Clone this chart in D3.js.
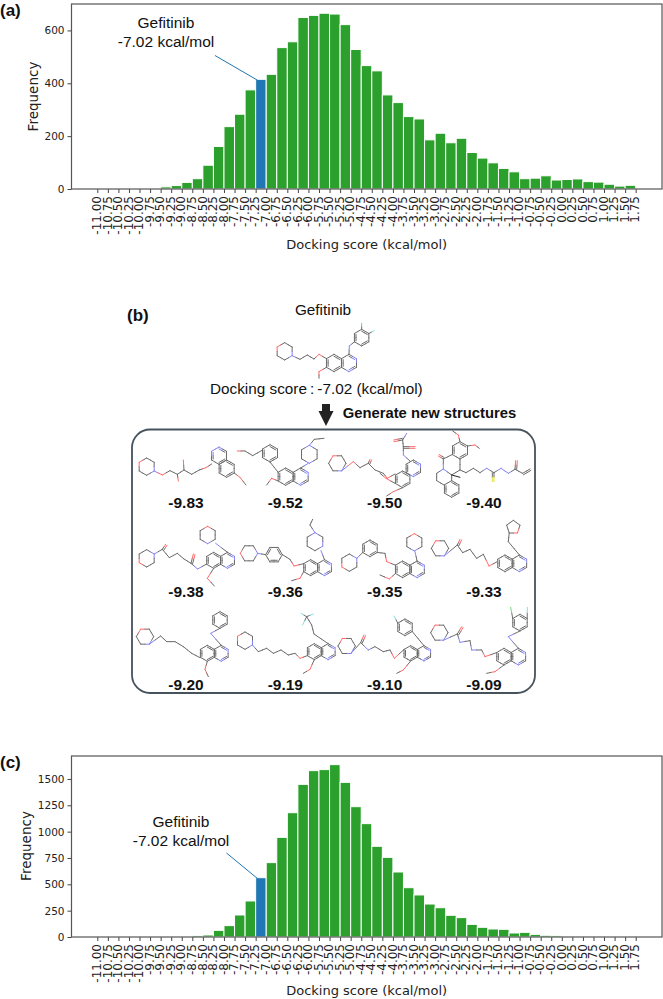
<!DOCTYPE html>
<html>
<head>
<meta charset="utf-8">
<title>Docking score histograms</title>
<script src="https://cdn.jsdelivr.net/npm/d3@7"></script>
<style>
  html, body { margin: 0; padding: 0; background: #fff; }
  svg { display: block; }
  .axis path, .axis line { stroke: #444; }
  .axis text { font-family: "DejaVu Sans", sans-serif; fill: #222; }
  .label { font-family: "DejaVu Sans", sans-serif; font-size: 13px; fill: #222; }
  .arial { font-family: "Liberation Sans", Arial, sans-serif; fill: #111; }
</style>
</head>
<body>
<div id="chart"></div>
<script>
/* Bin left edges, shared by both histograms */
var binEdges = [-11, -10.75, -10.5, -10.25, -10, -9.75, -9.5, -9.25, -9, -8.75, -8.5, -8.25, -8, -7.75, -7.5, -7.25,
  -7, -6.75, -6.5, -6.25, -6, -5.75, -5.5, -5.25, -5, -4.75, -4.5, -4.25, -4, -3.75, -3.5, -3.25, -3, -2.75, -2.5,
  -2.25, -2, -1.75, -1.5, -1.25, -1, -0.75, -0.5, -0.25, 0, 0.25, 0.5, 0.75, 1, 1.25, 1.5, 1.75];

var freqA = [0, 0, 0, 0, 0, 0, 8, 13, 25, 39, 90, 161, 236, 283, 375, 415, 434, 535, 557, 649, 657, 665, 662, 622];
var freqB = [528, 467, 447, 356, 327, 274, 265, 186, 211, 175, 192, 138, 117, 99, 78, 65, 39, 41, 50, 34, 36, 38, 28, 26, 18, 11, 14];

var freqC1 = [0, 0, 0, 0, 0, 0, 0, 0, 9, 13, 19, 63, 108, 209, 342, 563, 706, 946, 1180, 1449, 1579, 1589, 1636, 1468];
var freqC2 = [1237, 1076, 861, 756, 617, 468, 399, 313, 278, 206, 184, 120, 92, 76, 73, 38, 44, 25, 16, 13, 3, 2, 3, 1, 0, 0, 0];

var topScores = ["-9.83", "-9.52", "-9.50", "-9.40"];
var midScores = ["-9.38", "-9.36", "-9.35", "-9.33"];
var lowScores = ["-9.20", "-9.19", "-9.10", "-9.09"];

var yTicksA = [0, 200, 400, 600];
var yTicksC = [0, 250, 500, 750, 1000, 1250, 1500];
var highlightEdge = -7.25;

var svg = d3.select("#chart").append("svg").attr("width", 663).attr("height", 999);

/* Histogram panel */
function histogram(opts) {
  var g = svg.append("g");
  var x = d3.scaleLinear().domain([-11, 1.75]).range([97.3, 635.7]);
  var y = d3.scaleLinear().domain([0, opts.ymax]).range([opts.bottom, opts.top]);

  g.selectAll("rect.bar").data(opts.values).enter().append("rect")
    .attr("class", "bar")
    .attr("x", function (d, i) { return x(binEdges[i]); })
    .attr("width", function (d, i) { return x(binEdges[i + 1]) - x(binEdges[i]); })
    .attr("y", function (d) { return y(d); })
    .attr("height", function (d) { return opts.bottom - y(d); })
    .attr("fill", function (d, i) { return binEdges[i] === highlightEdge ? "#1f77b4" : "#2ca02c"; })
    .attr("stroke", "#fff").attr("stroke-width", 1);

  var xAxis = g.append("g").attr("class", "axis").attr("transform", "translate(0," + opts.bottom + ")")
    .call(d3.axisBottom(x).tickValues(binEdges).tickSize(4).tickFormat(function (d) { return d.toFixed(2); }));
  xAxis.select(".domain").remove();
  xAxis.selectAll("text")
    .attr("transform", "rotate(-90)")
    .attr("text-anchor", "end")
    .attr("x", -7).attr("y", -1).attr("dy", "0.35em")
    .style("font-size", "12px");

  var yAxis = g.append("g").attr("class", "axis").attr("transform", "translate(71.5,0)")
    .call(d3.axisLeft(y).tickValues(opts.yTicks).tickSize(4).tickPadding(3).tickFormat(d3.format("d")));
  yAxis.select(".domain").remove();
  yAxis.selectAll("text").style("font-size", "10.5px");

  g.append("rect").attr("x", 71.5).attr("y", opts.top).attr("width", 590.5).attr("height", opts.bottom - opts.top)
    .attr("fill", "none").attr("stroke", "#555").attr("stroke-width", 1.2);

  g.append("text").attr("class", "label").attr("x", 366.7).attr("y", opts.xlabelY).attr("text-anchor", "middle")
    .text("Docking score (kcal/mol)");
  g.append("text").attr("class", "label").attr("text-anchor", "middle").style("font-size", "13.5px")
    .attr("transform", "translate(" + opts.ylabelX + "," + opts.ylabelY + ") rotate(-90)")
    .text("Frequency");

  // Gefitinib callout
  g.append("line").attr("x1", opts.call[0]).attr("y1", opts.call[1])
    .attr("x2", x(highlightEdge) + 2).attr("y2", y(opts.values[binEdges.indexOf(highlightEdge)]) + 1)
    .attr("stroke", "#1f77b4").attr("stroke-width", 1);
  g.append("text").attr("class", "arial").attr("x", opts.noteX).attr("y", opts.noteY)
    .attr("text-anchor", "middle").style("font-size", "15.5px").text("Gefitinib");
  g.append("text").attr("class", "arial").attr("x", opts.noteX).attr("y", opts.noteY + 19)
    .attr("text-anchor", "middle").style("font-size", "15.5px").text("-7.02 kcal/mol");
}

histogram({ values: freqA.concat(freqB), ymax: 700, top: 4, bottom: 189, yTicks: yTicksA,
  xlabelY: 249, ylabelX: 38, ylabelY: 96.5, call: [215, 55.5], noteX: 166, noteY: 28 });
histogram({ values: freqC1.concat(freqC2), ymax: 1718, top: 756, bottom: 937, yTicks: yTicksC,
  xlabelY: 995, ylabelX: 31, ylabelY: 846, call: [226.5, 853], noteX: 181, noteY: 827 });

/* Panel letters and text */
function label(x, y, size, weight, str, anchor) {
  svg.append("text").attr("class", "arial").attr("x", x).attr("y", y)
    .attr("text-anchor", anchor || "start")
    .style("font-size", size + "px").style("font-weight", weight).text(str);
}
label(0, 16, 17, "bold", "(a)");
label(127, 321, 17, "bold", "(b)");
label(0, 768, 17, "bold", "(c)");
label(323, 315, 15.3, "normal", "Gefitinib", "middle");
label(210, 394, 15.3, "normal", "Docking score\u2009:\u2009-7.02 (kcal/mol)");
label(342.7, 418, 14.8, "bold", "Generate new structures");

svg.append("rect").attr("x", 132).attr("y", 429.5).attr("width", 403).attr("height", 263.5)
  .attr("rx", 18).attr("fill", "none").attr("stroke", "#46525c").attr("stroke-width", 1.8);

// Down arrow
svg.append("path").attr("fill", "#222")
  .attr("d", d3.line()([[322, 404], [330, 404], [330, 411], [333.5, 411], [326, 426], [318.5, 411], [322, 411]]) + "Z");

var col = d3.scalePoint().domain(d3.range(4)).range([186, 484]);
[[topScores, 508], [midScores, 597], [lowScores, 690]].forEach(function (row) {
  row[0].forEach(function (s, i) { label(col(i), row[1], 15.5, "bold", s, "middle"); });
});

/* Molecule sketches, in 3x crop units */
var atomColor = { O: "#ff6a6a", N: "#8484ee", Cl: "#6fdc6f", F: "#7fe0e0", S: "#e0e040" };
var bondColor = "#6a6a6a";

function sheet(ox, oy) {
  return svg.append("g").attr("transform", "translate(" + ox + "," + oy + ") scale(0.3333)")
    .attr("fill", "none").attr("stroke-width", 3).attr("stroke-linecap", "round");
}
function seg(g, a, b, c) {
  g.append("line").attr("x1", a[0]).attr("y1", a[1]).attr("x2", b[0]).attr("y2", b[1]).attr("stroke", c || bondColor);
}
function bond(g, a, b) {
  var m = [(a[0] + b[0]) / 2, (a[1] + b[1]) / 2];
  seg(g, a, m, atomColor[a[2]]);
  seg(g, m, b, atomColor[b[2]]);
}
function chain(g, pts) {
  for (var i = 1; i < pts.length; i++) bond(g, pts[i - 1], pts[i]);
}
function dbl(g, a, b) {
  var dx = b[0] - a[0], dy = b[1] - a[1], l = Math.sqrt(dx * dx + dy * dy) || 1;
  var ox = -dy / l * 5, oy = dx / l * 5;
  bond(g, [a[0] + ox, a[1] + oy, a[2]], [b[0] + ox, b[1] + oy, b[2]]);
  bond(g, a, b);
}
function ring(g, cx, cy, r, rot, atoms, arom, n) {
  n = n || 6;
  var pts = [];
  for (var i = 0; i < n; i++) {
    var t = (rot - 90 + i * 360 / n) * Math.PI / 180;
    var p = [cx + r * Math.cos(t), cy + r * Math.sin(t)];
    if (atoms && atoms[i]) p.push(atoms[i]);
    pts.push(p);
  }
  for (i = 0; i < n; i++) {
    bond(g, pts[i], pts[(i + 1) % n]);
    if (arom && i % 2 === 0) {
      var a = pts[i], b = pts[(i + 1) % n];
      var k = 0.78;
      bond(g, [cx + (a[0] - cx) * k, cy + (a[1] - cy) * k, a[2]], [cx + (b[0] - cx) * k, cy + (b[1] - cy) * k, b[2]]);
    }
  }
  return pts;
}
function morph(g, cx, cy, r, rot, o) {
  var atoms = {};
  atoms[o] = "O";
  atoms[(o + 3) % 6] = "N";
  return ring(g, cx, cy, r, rot, atoms)[(o + 3) % 6];
}
function quin(g, cx, cy, r) {
  var d = 2 * r * Math.cos(Math.PI / 6);
  var L = ring(g, cx, cy, r, 0, null, true);
  var R = ring(g, cx + d, cy, r, 0, { 1: "N", 3: "N" }, true);
  return { top: R[0], ul: L[5], ll: L[4], bot: L[3], ltop: L[0] };
}
function at(x, y, a) { return a ? [x, y, a] : [x, y]; }

var A = sheet(120, 290), B = sheet(380, 290), C = sheet(120, 510), D = sheet(380, 510);
var q, n, p;

// Gefitinib
n = morph(A, 494, 184, 26, 0, 5);
q = quin(A, 642, 219, 26);
chain(A, [n, at(540, 208), at(562, 195), at(582, 207), at(597, 193, "O"), q.ul]);
chain(A, [q.ll, at(597, 245, "O"), at(597, 265)]);
p = ring(A, 725, 143, 25, 0, null, true);
chain(A, [q.top, at(688, 168, "N"), p[4]]);
chain(A, [p[0], at(725, 100, "Cl")]);
chain(A, [p[1], at(763, 122, "F")]);

// -9.83
n = morph(A, 80, 530, 26, 0, 5);
chain(A, [n, at(127, 555, "O"), at(150, 542), at(172, 553), at(192, 540), at(215, 553), at(238, 540), at(258, 533, "O"), at(275, 522)]);
chain(A, [at(192, 540), at(190, 510, "O")]);
chain(A, [at(172, 553), at(175, 573, "O")]);
ring(A, 297, 497, 26, 0, { 0: "N", 5: "N" }, true);
p = ring(A, 320, 536, 26, 0, null, true);
chain(A, [p[2], at(360, 562, "O"), at(378, 585)]);

// -9.52
chain(A, [at(352, 483, "O"), at(375, 483), at(398, 497), at(428, 480)]);
p = ring(A, 450, 490, 26, 0, null, true);
q = quin(A, 497, 560, 26);
chain(A, [p[3], q.ul]);
chain(A, [q.ll, at(455, 565, "O"), at(440, 585)]);
chain(A, [q.top, at(565, 520, "N")]);
ring(A, 568, 493, 27, 0, { 3: "N", 0: "N" });
chain(A, [at(568, 466, "N"), at(583, 448), at(612, 445)]);

// -9.50
n = morph(A, 652, 520, 26, 30, 5);
chain(A, [n, at(700, 515, "O"), at(720, 533), at(745, 520), at(765, 540), at(790, 550), at(802, 565, "O"), at(825, 552)]);
dbl(A, at(745, 520), at(750, 508, "O"));
ring(B, 68, 568, 25, 0, null, true);
ring(B, 100, 535, 25, 0, { 1: "N", 3: "N" }, true);
chain(B, [at(90, 513), at(70, 495, "N"), at(70, 470)]);
dbl(B, at(70, 470), at(105, 470, "O"));
chain(B, [at(70, 470), at(68, 450)]);
dbl(B, at(68, 450), at(42, 455, "O"));
chain(B, [at(68, 450), at(80, 430, "N")]);
chain(B, [at(45, 580), at(18, 565, "O"), at(0, 550)]);
chain(B, [at(68, 593), at(40, 605, "O"), at(20, 618)]);

// -9.40
p = ring(B, 240, 481, 26, 0, null, true);
chain(B, [p[0], at(235, 435, "O"), at(218, 423)]);
chain(B, [p[1], at(285, 465, "O"), at(298, 475)]);
chain(B, [at(218, 493), at(190, 507), at(190, 537, "N"), at(215, 555), at(240, 540), at(240, 507)]);
dbl(B, at(190, 507), at(175, 498, "O"));
chain(B, [at(240, 540), at(258, 548), at(280, 535), at(300, 548), at(320, 535, "N"), at(342, 548), at(363, 535, "N"), at(385, 550, "N"), at(405, 538), at(428, 550)]);
dbl(B, at(428, 550), at(450, 537));
dbl(B, at(342, 548), at(342, 575, "S"));
dbl(B, at(405, 538), at(407, 512, "O"));
chain(B, [at(190, 537, "N"), at(170, 550), at(170, 572), at(192, 585)]);
chain(B, [at(215, 555), at(215, 572)]);
ring(B, 215, 597, 25, 0, null, true);
seg(B, at(215, 555), at(240, 562), "#222");

// -9.38
n = morph(C, 80, 145, 26, 0, 4);
chain(C, [at(103, 132, "N"), at(127, 118), at(148, 143), at(172, 130), at(192, 147), at(213, 160), at(233, 177, "N"), at(260, 162)]);
dbl(C, at(127, 118), at(137, 103, "O"));
dbl(C, at(213, 160), at(220, 132, "O"));
q = quin(C, 281, 151, 24);
chain(C, [q.top, at(287, 100, "N")]);
morph(C, 263, 75, 26, 0, 0);
chain(C, [q.bot, at(262, 205, "O"), at(283, 228)]);

// -9.36
n = morph(C, 387, 130, 26, 30, 4);
p = ring(C, 462, 134, 25, 30, null, true);
chain(C, [n, p[4]]);
q = quin(C, 572, 173, 24);
chain(C, [p[1], at(510, 148), at(522, 168, "O"), q.ul]);
chain(C, [q.ll, at(540, 205, "O"), at(515, 212)]);
chain(C, [q.top, at(603, 122, "N")]);
ring(C, 585, 95, 27, 0, { 0: "N", 2: "N" });
chain(C, [at(585, 68, "N"), at(570, 45), at(578, 28)]);

// -9.35
n = morph(C, 688, 158, 26, 0, 4);
p = ring(C, 750, 115, 25, 0, null, true);
chain(C, [n, p[4]]);
chain(C, [p[2], at(795, 130), at(800, 155, "O")]);
q = quin(D, 68, 178, 25);
chain(D, [at(20, 155, "O"), q.ul]);
chain(D, [q.ll, at(28, 207, "O"), at(0, 195)]);
chain(D, [q.top, at(105, 125, "N")]);
morph(D, 103, 97, 26, 0, 0);

// -9.33
n = morph(D, 180, 115, 26, 30, 5);
chain(D, [n, at(232, 105), at(248, 128), at(270, 118), at(290, 145), at(310, 133), at(327, 168, "O"), at(352, 155)]);
dbl(D, at(232, 105), at(240, 88, "O"));
q = quin(D, 375, 160, 25);
chain(D, [q.top, at(385, 95)]);
p = ring(D, 400, 52, 21, 0, { 2: "O" }, false, 5);
chain(D, [at(385, 95), p[3]]);

// -9.20
n = morph(C, 75, 380, 26, 30, 5);
chain(C, [n, at(122, 378), at(140, 395), at(165, 395), at(190, 410), at(215, 430), at(240, 443)]);
q = quin(C, 262, 430, 24);
chain(C, [q.bot, at(255, 478, "O"), at(265, 500)]);
p = ring(C, 300, 330, 25, 0, null, true);
chain(C, [q.top, at(272, 370, "N"), p[3]]);

// -9.19
n = morph(C, 375, 392, 26, 0, 5);
q = quin(C, 583, 425, 24);
chain(C, [n, at(415, 425), at(440, 415), at(460, 430), at(483, 420), at(505, 435), at(525, 430), at(540, 445, "O"), q.ll]);
chain(C, [q.bot, at(570, 478, "O"), at(550, 490)]);
chain(C, [q.top, at(582, 372), at(575, 345), at(560, 320)]);
chain(C, [at(560, 320), at(543, 310, "F")]);
chain(C, [at(560, 320), at(580, 312, "F")]);
chain(C, [at(560, 320), at(548, 345, "F")]);

// -9.10
n = morph(C, 680, 408, 26, 30, 5);
chain(C, [n, at(722, 398), at(745, 420, "N"), at(765, 410), at(790, 425), at(810, 420)]);
dbl(C, at(722, 398), at(732, 375, "O"));
q = quin(D, 92, 430, 23);
chain(D, [at(30, 420), at(43, 445, "O"), q.ul]);
chain(D, [q.bot, at(70, 480, "O"), at(50, 490)]);
p = ring(D, 75, 352, 25, 0, null, true);
chain(D, [q.top, p[2]]);
chain(D, [p[5], at(42, 318, "F")]);

// -9.09
n = morph(D, 178, 368, 26, 30, 5);
chain(D, [n, at(232, 372), at(240, 397, "N"), at(270, 392), at(275, 420, "N"), at(305, 420), at(315, 440, "O"), at(350, 428)]);
dbl(D, at(232, 372), at(245, 350, "O"));
q = quin(D, 372, 440, 25);
chain(D, [q.bot, at(345, 485, "O"), at(320, 490)]);
p = ring(D, 420, 338, 25, 0, null, true);
chain(D, [q.top, at(385, 380, "N"), p[3]]);
chain(D, [p[5], at(392, 292, "Cl")]);
chain(D, [p[1], at(442, 292, "F")]);
</script>
</body>
</html>
